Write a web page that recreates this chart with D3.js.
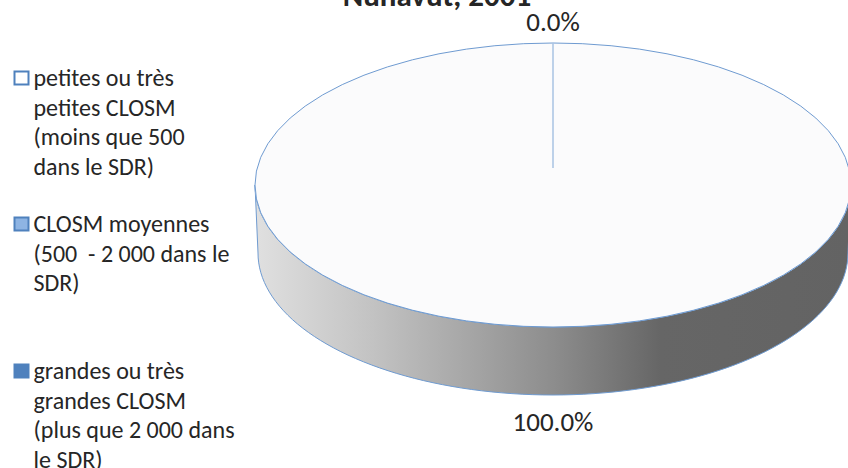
<!DOCTYPE html>
<html><head><meta charset="utf-8">
<script src="https://cdn.jsdelivr.net/npm/d3@7"></script>
<style>html,body{margin:0;padding:0;background:#fff;overflow:hidden}svg{display:block}text{font-family:Carlito,Lato,"Open Sans",sans-serif;fill:#262626;white-space:pre}</style>
</head><body><svg id="c" width="848" height="468"></svg>
<script>
const titleText = "Nunavut, 2001";
const categories = ["petites ou très petites CLOSM (moins que 500 dans le SDR)","CLOSM moyennes (500  - 2 000 dans le SDR)","grandes ou très grandes CLOSM (plus que 2 000 dans le SDR)"];
const legendLines = [["petites ou très","petites CLOSM","(moins que 500","dans le SDR)"],["CLOSM moyennes","(500  - 2 000 dans le","SDR)"],["grandes ou très","grandes CLOSM","(plus que 2 000 dans","le SDR)"]];
const values = [0,0,100];
const valueLabels = ["0.0%","100.0%"];
const swatchColors = ["#ffffff","#8eb4e3","#4f81bd"];

const svg = d3.select("#c");
const cx=553, cy=185, rx=298, ry=142, depth=68, apexY=168, lowerRx=295;
const defs = svg.append("defs");
const g = defs.append("linearGradient").attr("id","side").attr("gradientUnits","userSpaceOnUse").attr("x1",cx-rx).attr("x2",cx+rx).attr("y1",0).attr("y2",0);
[[0,"#e0e0e0"],[0.2,"#c2c2c2"],[0.5,"#8d8d8d"],[0.68,"#666666"],[1,"#636363"]].forEach(s=>g.append("stop").attr("offset",s[0]).attr("stop-color",s[1]));

// Side wall
const angles = d3.range(0,181,2).map(d=>d*Math.PI/180);
const x = a=>cx-rx*Math.cos(a), y=a=>cy+ry*Math.sin(a);
const xLow = a=>cx-lowerRx*Math.cos(a), yLow=a=>cy+depth+ry*Math.sin(a);
const line = d3.line();
const topEdge = angles.map(a=>[x(a),y(a)]);
const lowEdge = angles.map(a=>[xLow(a),yLow(a)]).reverse();
svg.append("path").attr("d",line(topEdge.concat(lowEdge))+"Z").attr("fill","url(#side)").attr("stroke","#6f9bd1").attr("stroke-width",1);

// Top face from the pie layout
const pie = d3.pie().sort(null).value(d=>d)(values);
const arc = d3.arc().innerRadius(0).outerRadius(rx);
svg.append("g").attr("transform",`translate(${cx},${cy}) scale(1,${ry/rx})`)
  .selectAll("path").data(pie).join("path").attr("d",arc)
  .attr("fill","#fbfbfc").attr("stroke","none");
svg.append("ellipse").attr("cx",cx).attr("cy",cy).attr("rx",rx).attr("ry",ry).attr("fill","none").attr("stroke","#6f9bd1").attr("stroke-width",1);
svg.append("line").attr("x1",cx).attr("x2",cx).attr("y1",cy-ry).attr("y2",apexY).attr("stroke","#a9c3e3").attr("stroke-width",1.5);

// Labels
svg.append("text").attr("x",437).attr("y",6).attr("text-anchor","middle").attr("font-weight","bold").attr("font-size",31).attr("fill","#111").text(titleText);
svg.append("text").attr("x",cx).attr("y",31).attr("text-anchor","middle").attr("font-size",27).text(valueLabels[0]);
svg.append("text").attr("x",cx).attr("y",431).attr("text-anchor","middle").attr("font-size",27).text(valueLabels[1]);

// Legend
const starts=[86,232,379];
const swY=[78,224,371];
legendLines.forEach((ls,i)=>{
  svg.append("rect").attr("x",14.5).attr("y",swY[i]-6.5).attr("width",14).attr("height",13).attr("fill",swatchColors[i]).attr("stroke","#4f81bd").attr("stroke-width",2);
  ls.forEach((t,j)=>svg.append("text").attr("x",33.5).attr("y",starts[i]+j*29.7).attr("font-size",24).text(t));
});
</script></body></html>
